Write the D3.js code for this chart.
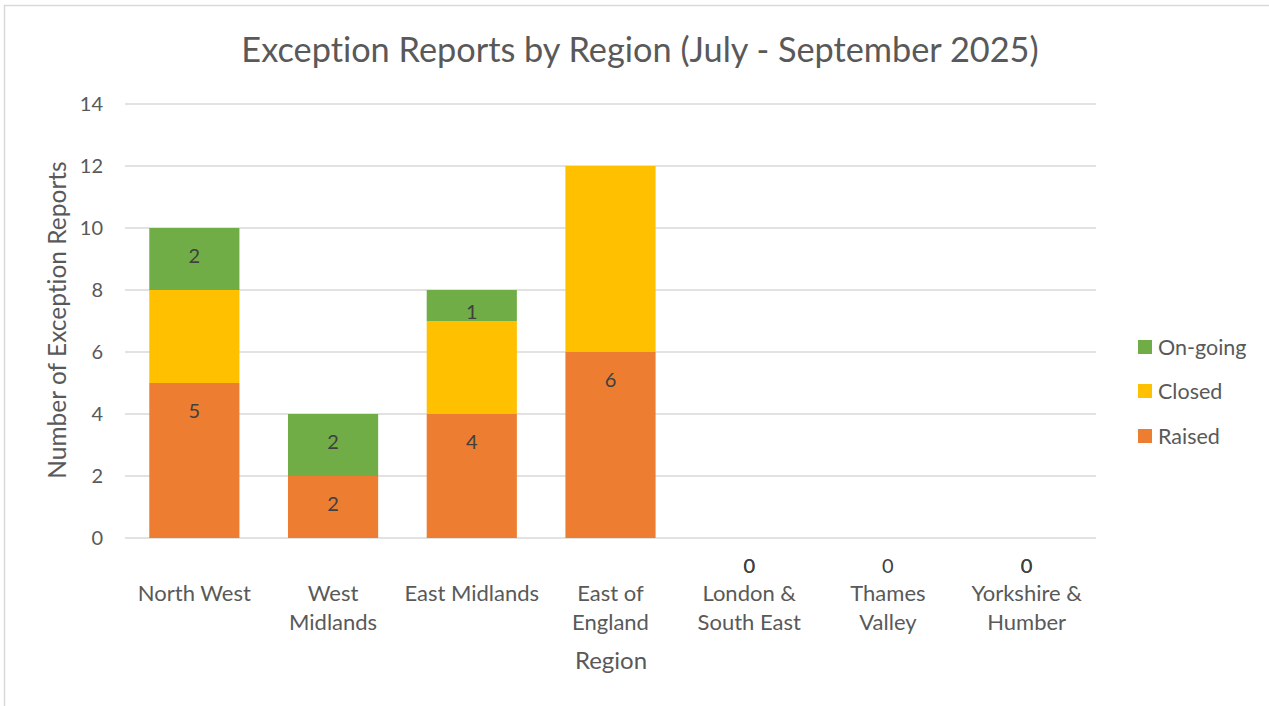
<!DOCTYPE html>
<html>
<head>
<meta charset="utf-8">
<script src="https://cdn.jsdelivr.net/npm/d3@7"></script>
<style>
  html, body { margin: 0; padding: 0; background: #fff; }
  svg { display: block; font-family: Lato, "Open Sans", sans-serif; font-variant-ligatures: none; font-feature-settings: "liga" 0, "clig" 0; }
</style>
</head>
<body>
<svg id="chart" width="1269" height="706"></svg>
<script>
const categories = ["North West", "West Midlands", "East Midlands", "East of England", "London & South East", "Thames Valley", "Yorkshire & Humber"];
const categoryLines = [["North West"], ["West", "Midlands"], ["East Midlands"], ["East of", "England"], ["London &", "South East"], ["Thames", "Valley"], ["Yorkshire &", "Humber"]];
const raised = [5, 2, 4, 6, 0, 0, 0];
const closed = [3, 0, 3, 6, 0, 0, 0];
const ongoing = [2, 2, 1, 0, 0, 0, 0];
// which values carry a data label (as in the source chart)
const raisedLabels = [5, 2, 4, 6, 0, 0, 0];
const ongoingLabels = [2, 2, 1, null, 0, null, 0];
const yTicks = [0, 2, 4, 6, 8, 10, 12, 14];
const seriesNames = ["Raised", "Closed", "On-going"];
const seriesColors = ["#ED7D31", "#FFC000", "#70AD47"];

const svg = d3.select("#chart");
const W = 1269, H = 706;
const m = { left: 125, right: 1096, top: 104, bottom: 538 };

// chart frame
svg.append("path")
  .attr("d", `M4.5,${H} V5.5 H${W}`)
  .attr("fill", "none").attr("stroke", "#d9d9d9").attr("stroke-width", 1.5);

const x = d3.scaleBand().domain(categories).range([m.left, m.right])
  .paddingInner(0.35).paddingOuter(0.175);
const y = d3.scaleLinear().domain([0, 14]).range([m.bottom, m.top]);

// gridlines
svg.append("g").selectAll("line").data(yTicks).join("line")
  .attr("x1", m.left).attr("x2", m.right)
  .attr("y1", d => y(d)).attr("y2", d => y(d))
  .attr("stroke", "#d9d9d9").attr("stroke-width", 1.5);

// y tick labels
svg.append("g").selectAll("text").data(yTicks).join("text")
  .attr("x", 103).attr("y", d => y(d)).attr("dy", "0.35em")
  .attr("text-anchor", "end").attr("fill", "#595959").attr("font-size", 20)
  .text(d => d);

// stacked bars
const rows = categories.map((c, i) => ({ cat: c, Raised: raised[i], Closed: closed[i], "On-going": ongoing[i] }));
const stacked = d3.stack().keys(seriesNames)(rows);
svg.append("g").selectAll("g").data(stacked).join("g")
  .attr("fill", (d, i) => seriesColors[i])
  .selectAll("rect").data(d => d).join("rect")
  .attr("x", d => x(d.data.cat))
  .attr("width", x.bandwidth())
  .attr("y", d => y(d[1]))
  .attr("height", d => y(d[0]) - y(d[1]));

// data labels (inside end)
function addLabels(series, labels) {
  const pts = series.map((d, i) => ({ d, v: labels[i], cat: categories[i] })).filter(p => p.v !== null);
  svg.append("g").selectAll("text").data(pts).join("text")
    .attr("x", p => x(p.cat) + x.bandwidth() / 2)
    .attr("y", p => {
      const top = y(p.d[1]), bot = y(p.d[0]);
      return bot - top > 0 ? Math.min(top + 28, bot - 9) : top + 28;
    })
    .attr("dy", "0.35em").attr("text-anchor", "middle")
    .attr("fill", "#404040").attr("font-size", 20)
    .text(p => p.v);
}
addLabels(stacked[0], raisedLabels);
addLabels(stacked[2], ongoingLabels);

// x category labels
const xl = svg.append("g").selectAll("text").data(categories).join("text")
  .attr("x", d => x(d) + x.bandwidth() / 2)
  .attr("y", 593)
  .attr("text-anchor", "middle").attr("fill", "#595959").attr("font-size", 22);
xl.selectAll("tspan").data((d, i) => categoryLines[i]).join("tspan")
  .attr("x", function() { return d3.select(this.parentNode).attr("x"); })
  .attr("dy", (d, j) => j === 0 ? "0.35em" : "1.32em")
  .text(d => d);

// axis titles
svg.append("text").attr("x", (m.left + m.right) / 2 + 0.5).attr("y", 661).attr("dy", "0.35em")
  .attr("text-anchor", "middle").attr("fill", "#595959").attr("font-size", 24).text("Region");
svg.append("text").attr("transform", `translate(57,${(m.top + m.bottom) / 2 - 1}) rotate(-90)`)
  .attr("dy", "0.35em").attr("text-anchor", "middle").attr("fill", "#595959").attr("font-size", 24.5)
  .text("Number of Exception Reports");

// title
svg.append("text").attr("x", 640).attr("y", 50).attr("dy", "0.35em")
  .attr("text-anchor", "middle").attr("fill", "#595959").attr("font-size", 34.3)
  .text("Exception Reports by Region (July - September 2025)");

// legend
const legendY = [436, 391, 347];
const lg = svg.append("g").selectAll("g").data(seriesNames).join("g")
  .attr("transform", (d, i) => `translate(1138,${legendY[i]})`);
lg.append("rect").attr("x", 0).attr("y", -7).attr("width", 14).attr("height", 14)
  .attr("fill", (d, i) => seriesColors[i]);
lg.append("text").attr("x", 20).attr("dy", "0.35em").attr("fill", "#595959").attr("font-size", 21.5)
  .text(d => d);
</script>
</body>
</html>
